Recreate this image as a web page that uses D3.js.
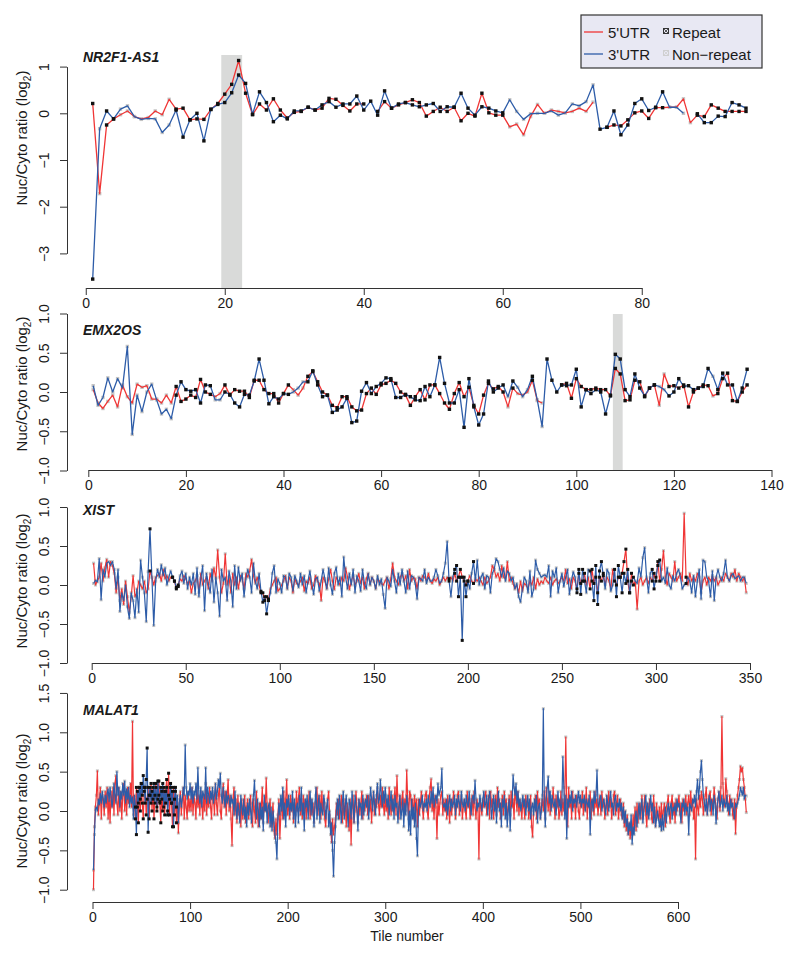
<!DOCTYPE html>
<html><head><meta charset="utf-8">
<script src="https://cdnjs.cloudflare.com/ajax/libs/d3/7.8.5/d3.min.js"></script>
<style>
body{margin:0;background:#fff}
svg{display:block}
text{font-family:"Liberation Sans",Arial,Helvetica,sans-serif;fill:#1a1a1a}
</style>
</head><body>
<svg id="chart" width="800" height="955"></svg>
<script>
// ---------------- DATA ----------------
const seriesNames = ["5'UTR", "3'UTR"];
const markerNames = ["Repeat", "Non\u2212repeat"];
const panelNames = ["NR2F1-AS1", "EMX2OS", "XIST", "MALAT1"];

// NR2F1-AS1 (tile 1..95)
const nr2f1Utr5 = [0.21,-1.72,-0.25,-0.12,-0.03,0.05,-0.07,-0.12,-0.09,0.05,
 -0.03,0.30,0.09,0.11,-0.14,-0.12,-0.13,0.08,0.21,0.41,
 0.62,1.13,0.43,-0.03,0.20,0.07,0.31,0.07,-0.10,0.02,
 0.04,0.13,0.07,0.11,0.32,0.30,0.17,0.05,0.20,0.20,
 null,0.04,0.25,0.11,0.18,0.23,0.29,0.23,-0.06,0.04,
 0.13,0.04,0.13,-0.16,0.00,-0.06,0.43,0.01,-0.04,-0.04,
 -0.29,-0.23,-0.46,-0.07,0.19,0.00,0.07,0.04,0.01,0.04,
 0.11,0.04,0.24,null,-0.30,-0.25,-0.27,-0.14,0.01,0.05,
 -0.11,0.12,0.12,0.13,0.13,0.31,-0.20,-0.04,-0.07,0.18,
 0.11,0.04,0.04,0.04,0.04];
const nr2f1Utr3 = [-3.55,-0.33,0.05,-0.12,0.09,0.16,-0.07,-0.13,-0.11,-0.12,
 -0.41,-0.25,0.07,-0.51,-0.14,0.00,-0.59,0.09,0.19,0.23,
 0.44,0.82,0.64,-0.02,0.46,0.23,-0.18,-0.04,-0.12,0.05,
 0.05,0.13,0.07,0.18,0.25,0.13,0.20,0.20,0.37,0.07,
 0.26,-0.04,0.48,0.11,0.20,0.23,0.18,0.14,0.18,0.21,
 0.04,0.14,0.13,0.43,0.11,-0.04,0.14,0.11,0.05,0.01,
 0.29,0.04,-0.13,-0.01,0.00,0.00,0.05,-0.04,0.01,0.20,
 0.16,0.25,0.61,-0.34,-0.30,0.05,-0.46,-0.25,0.21,0.31,
 0.06,0.13,0.46,0.13,0.13,0.00,null,-0.01,-0.20,-0.20,
 -0.06,-0.07,0.23,0.18,0.11];
const nr2f1Repeat = [[1,1],[3,4],[13,60],[74,83],[88,95]];
const nr2f1Shade = [19.5, 22.5];

// EMX2OS (tile 1..135)
const emx2osUtr5 = [0.03,-0.14,-0.21,-0.12,-0.04,-0.19,0.09,-0.06,-0.14,0.10,
 0.06,0.08,-0.09,-0.09,-0.14,-0.04,-0.14,0.07,-0.12,-0.09,
 -0.04,-0.07,0.16,0.00,-0.03,-0.06,-0.02,0.09,-0.04,0.03,
 0.01,0.01,-0.07,0.15,0.15,0.03,-0.02,-0.02,-0.14,-0.02,
 0.09,0.03,-0.04,0.05,0.20,0.26,0.13,0.00,-0.04,-0.17,
 -0.20,-0.06,-0.06,-0.19,-0.24,-0.23,-0.02,0.05,-0.03,0.09,
 0.11,0.15,0.11,0.00,-0.04,-0.17,-0.06,0.03,-0.10,0.09,
 0.09,-0.02,-0.14,-0.22,-0.02,0.12,-0.06,0.06,-0.17,-0.28,
 -0.04,0.11,0.04,0.07,0.00,-0.19,0.05,-0.02,-0.04,0.00,
 0.15,-0.11,-0.14,null,null,null,0.09,0.11,-0.08,0.17,
 0.07,0.03,0.03,0.05,0.03,0.03,-0.05,0.30,0.23,-0.11,
 -0.10,0.15,0.13,-0.06,0.05,0.09,-0.17,0.23,0.07,0.08,
 0.05,0.09,-0.19,0.00,0.05,0.09,0.08,-0.05,-0.02,0.17,
 0.24,-0.11,-0.12,0.00,0.09];
const emx2osUtr3 = [0.08,-0.17,-0.07,0.18,0.00,0.17,0.05,0.58,-0.54,-0.04,
 -0.25,0.00,0.10,-0.10,-0.28,-0.22,-0.34,-0.04,0.13,0.03,
 0.01,0.03,-0.14,0.09,0.08,-0.10,-0.10,0.00,-0.03,-0.14,
 -0.19,-0.03,-0.04,0.14,0.42,0.15,-0.15,-0.06,-0.09,-0.02,
 -0.03,0.00,0.05,0.13,0.13,0.27,0.09,-0.06,-0.04,-0.26,
 -0.23,-0.19,-0.08,-0.39,-0.37,0.01,0.12,-0.02,0.07,0.11,
 0.18,0.17,-0.07,-0.07,-0.03,-0.06,-0.10,-0.11,0.07,-0.06,
 0.09,0.44,0.11,-0.14,-0.14,0.03,-0.45,0.17,-0.19,-0.42,
 -0.28,0.14,0.00,0.05,0.09,-0.06,0.14,0.06,-0.06,0.03,
 0.20,-0.10,-0.44,0.42,0.15,0.00,0.09,0.08,0.09,0.29,
 -0.19,0.03,-0.02,0.03,0.00,-0.28,-0.04,0.48,0.42,0.03,
 -0.06,0.23,0.05,-0.05,0.05,0.09,0.07,0.03,-0.05,0.00,
 0.17,0.07,0.08,0.03,0.05,0.07,0.30,0.20,0.03,0.24,
 0.09,0.09,-0.12,0.05,0.29];
const emx2osRepeat = [[18,25],[28,41],[45,85],[87,87],[91,91],[94,116],[119,127],[129,135]];
const emx2osShade = [107.5, 109.5];

// XIST (tile 1..348)
const xistUtr5 = [0.28,0.0,0.05,0.1,0.28,0.05,0.22,0.33,0.1,0.3,
 0.25,0.15,-0.1,0.1,-0.2,-0.05,-0.25,0.05,-0.15,-0.35,
 -0.15,0.12,-0.15,-0.1,0.05,0.0,-0.05,0.05,-0.1,-0.05,
 0.18,0.1,0.0,0.1,0.12,0.15,0.05,0.2,0.08,0.12,
 0.05,0.1,0.1,0.05,-0.05,0.0,0.08,0.05,0.12,0.08,
 0.02,0.05,-0.1,0.02,0.05,0.12,-0.1,0.15,0.0,0.05,
 0.1,-0.05,0.15,0.05,0.22,0.08,0.45,0.1,-0.1,0.02,
 0.4,0.0,0.1,-0.1,0.15,0.0,0.1,-0.05,0.12,0.08,
 -0.05,0.15,0.1,0.18,0.33,0.12,0.02,0.1,0.0,-0.1,
 -0.1,-0.2,-0.15,-0.18,-0.05,0.0,0.05,0.1,-0.08,-0.05,
 0.0,0.05,0.12,-0.05,0.1,0.05,-0.1,0.08,0.02,0.0,
 0.05,0.1,-0.08,0.05,0.02,0.1,-0.05,0.0,0.12,0.05,
 0.02,-0.2,0.1,0.05,-0.05,0.08,0.2,0.05,-0.06,0.1,
 0.05,0.0,0.1,0.05,0.22,0.1,-0.06,0.05,0.12,0.0,
 0.05,0.15,0.02,0.1,-0.05,0.08,0.15,0.0,0.1,0.05,
 -0.05,0.08,0.05,0.02,0.0,0.05,0.1,-0.05,0.08,0.28,
 0.1,0.05,0.0,0.1,0.15,0.05,0.12,-0.05,0.2,0.05,
 0.1,0.08,-0.05,0.1,0.05,0.12,0.1,0.05,0.15,0.05,
 0.02,0.08,0.05,0.1,0.0,0.05,0.1,0.05,0.1,0.08,
 0.1,0.05,0.15,0.05,0.1,0.2,0.1,0.05,0.0,0.05,
 0.12,0.05,0.02,0.08,0.05,0.1,0.05,0.0,0.1,0.02,
 0.05,0.1,0.25,0.2,0.1,0.15,0.05,0.25,0.1,0.08,
 0.3,0.05,0.1,0.02,-0.05,0.0,-0.1,0.05,-0.08,0.02,
 0.0,-0.05,0.05,0.0,0.1,-0.05,0.08,0.0,0.05,0.02,
 0.1,0.05,0.02,0.1,0.0,0.05,0.08,0.02,0.05,0.1,
 0.05,0.2,0.02,0.08,-0.05,0.1,0.05,-0.05,0.15,0.02,
 0.05,0.15,0.0,0.1,-0.05,0.2,0.02,0.1,-0.1,0.1,
 0.05,0.15,0.0,0.1,0.05,-0.05,0.2,0.05,0.0,0.1,
 0.1,0.15,0.3,0.46,0.05,-0.1,0.15,0.0,0.05,-0.31,
 0.05,0.1,0.0,0.05,0.1,0.02,0.1,0.05,0.15,0.05,
 0.3,0.05,0.2,0.44,0.1,0.0,0.15,0.1,0.05,0.3,
 0.05,0.1,0.15,0.05,0.92,0.1,0.0,0.15,0.05,0.1,
 0.05,0.15,0.1,-0.1,0.05,0.1,0.0,0.1,0.05,0.12,
 0.05,0.1,0.0,0.05,0.1,0.05,0.15,0.1,0.05,0.15,
 0.1,0.2,0.05,0.15,0.1,0.05,0.1,-0.1];
const xistUtr3 = [0.02,0.06,0.04,0.34,-0.19,0.2,0.1,0.28,0.3,0.25,
 0.3,0.2,-0.05,0.2,-0.34,-0.1,-0.2,0.0,-0.28,-0.43,
 -0.1,-0.2,-0.42,-0.05,-0.35,0.32,0.1,-0.1,-0.47,0.17,
 0.72,0.1,-0.52,0.05,0.2,0.1,0.26,0.12,0.22,0.0,
 0.1,0.18,0.1,0.05,-0.03,-0.02,0.12,0.18,0.02,0.15,
 -0.05,0.1,0.0,0.15,-0.12,0.22,-0.15,0.08,0.25,-0.33,
 0.15,0.02,-0.1,0.2,-0.22,0.1,-0.1,-0.4,0.2,0.05,
 0.1,-0.2,0.18,0.05,-0.28,0.25,-0.05,0.23,0.05,0.15,
 -0.15,0.08,0.2,0.1,-0.1,0.28,0.05,-0.05,0.15,-0.08,
 -0.22,-0.15,-0.37,-0.2,-0.1,0.15,0.25,-0.1,0.08,0.02,
 -0.1,0.12,0.1,-0.05,0.15,0.1,-0.08,0.12,0.05,-0.03,
 0.15,0.0,0.12,-0.1,0.05,0.18,0.02,-0.12,0.08,0.1,
 -0.08,0.05,0.2,0.08,-0.05,0.22,0.0,-0.12,0.15,0.23,
 0.0,0.1,-0.15,0.36,0.1,-0.05,0.15,0.0,0.2,-0.1,
 0.12,0.05,-0.08,0.2,0.02,-0.05,0.15,0.0,0.1,0.05,
 -0.05,0.12,0.0,0.08,-0.12,-0.3,0.1,0.05,-0.02,0.2,
 0.05,-0.1,0.15,0.0,0.2,0.05,-0.1,0.18,-0.05,0.12,
 0.1,0.02,-0.18,0.1,0.08,0.05,0.2,0.02,0.1,0.05,
 0.05,0.1,0.2,0.12,0.02,0.05,0.15,0.28,0.56,0.05,
 -0.15,0.1,0.2,0.25,-0.15,0.1,-0.71,0.1,-0.15,0.05,
 -0.05,0.15,0.3,0.05,0.32,0.0,0.1,0.15,-0.05,0.12,
 0.1,-0.1,0.15,0.2,0.34,0.3,0.2,0.1,0.22,0.05,
 0.18,0.15,0.05,0.1,-0.05,0.02,-0.15,-0.22,-0.05,0.1,
 0.05,-0.1,0.18,-0.15,-0.05,0.32,0.2,0.15,0.1,0.12,
 0.13,0.1,0.25,-0.15,0.18,0.1,0.22,-0.1,0.05,0.15,
 -0.02,0.1,0.2,-0.12,0.05,0.17,0.1,-0.1,0.2,-0.12,
 0.2,0.05,-0.1,0.2,0.18,0.05,-0.2,0.25,-0.25,0.18,
 0.3,0.12,-0.05,0.2,0.15,-0.08,0.0,0.2,-0.15,0.25,
 0.1,-0.1,0.15,0.02,0.2,-0.1,0.05,0.1,0.05,0.02,
 0.22,0.1,0.35,0.48,0.1,-0.1,0.15,0.2,-0.05,0.1,
 0.25,0.32,0.05,0.1,0.02,0.22,0.0,-0.05,0.12,0.05,
 0.15,0.2,0.1,-0.05,0.0,0.02,0.1,0.05,-0.1,0.12,
 -0.15,0.05,0.2,-0.18,0.32,0.3,0.1,0.05,-0.15,0.18,
 -0.2,0.1,0.2,0.1,0.05,0.15,0.32,0.1,0.05,0.12,
 0.15,0.08,0.1,0.12,0.05,0.1,0.1,0.02];
const xistRepeat = [[31,31],[43,46],[90,94],[190,190],[193,200],[203,203],[258,262],[265,272],[278,288],[298,302],[316,316]];
const xistShade = null;

// MALAT1 (tile 1..670)
const malat1Utr5 = [-1.0,-.2,.05,.2,.51,-.05,.1,.3,-.1,.2,.15,-.05,.25,.05,.3,-.1,.2,-.15,.25,.05,
 .3,-.05,.35,.45,.1,-.05,.3,.0,.25,-.1,.2,.35,.0,.25,-.05,.3,.1,.2,.35,.05,
 1.14,-.05,.2,-.1,.3,.05,-.15,.3,.0,.35,.1,-.1,.25,.3,-.05,.15,.3,-.1,.2,.35,
 .0,.3,-.1,.2,.35,.0,.15,.38,.1,-.15,.25,.0,.3,-.05,.25,.4,.0,.48,-.05,.3,
 .1,-.2,.3,-.05,.25,-.15,.15,-.28,.1,.25,-.05,.15,.3,-.1,.2,.05,-.1,.25,.0,.15,
 .0,.3,-.05,.2,.1,-.1,.3,.05,.2,-.05,.25,.1,-.1,.2,.0,.35,-.05,.2,.05,.3,
 .05,-.1,.25,.15,-.05,.35,.1,-.05,.2,.3,.0,-.1,.2,.35,.05,.25,-.05,.2,.4,.0,
 .2,-.1,-.44,.15,.3,-.05,.15,-.15,.2,-.05,.1,-.2,.15,-.1,.05,.2,-.15,.05,.15,-.1,
 .05,.2,-.1,-.2,.15,.0,-.15,.25,-.05,-.2,.1,-.1,.05,.3,-.15,.1,.0,.42,.05,-.15,
 .05,.15,-.2,-.05,.1,-.25,-.35,-.1,-.3,-.05,.15,-.35,-.05,.15,-.1,.25,-.05,.15,.4,-.05,
 .15,-.1,.2,.0,.15,-.15,.1,-.05,.25,.0,.15,.3,-.05,.15,-.1,.2,.0,.15,-.1,.1,
 .0,.25,-.1,.15,-.05,.1,-.15,.05,.2,.3,-.05,.1,.2,-.1,.25,.0,.15,-.1,-.2,.05,
 .15,.25,-.05,-.2,-.4,-.1,-.3,-.2,-.1,.1,-.05,.15,-.1,.05,.2,-.15,.1,-.05,.15,-.2,
 .1,-.05,-.25,.15,-.43,.05,.2,-.15,.0,.25,.05,-.15,.15,-.05,.1,.25,-.1,.15,.0,.1,
 .2,-.05,.2,.0,.15,-.15,.1,.25,-.05,.15,.05,.3,.1,-.05,.2,.05,.3,.1,-.05,.2,
 .0,.15,-.1,.3,.1,-.05,.2,.0,.15,.3,-.05,.45,.1,-.1,.2,.0,.15,.25,-.05,.15,
 .0,.52,.15,-.1,.25,.2,-.05,.15,-.1,.2,.0,.15,-.2,.15,-.05,.1,.25,.05,-.1,.1,
 .2,.25,.0,-.1,.15,.3,.41,.0,.15,-.1,.2,.05,-.35,.15,-.05,.1,.2,.25,-.05,.15,
 .0,.15,-.1,.2,.05,-.15,.15,-.05,.1,.25,.1,-.1,.05,.2,.25,-.05,.1,.2,-.1,.05,
 .15,.0,-.1,.25,.05,.15,-.1,.05,.2,-.05,.25,.05,-.1,.15,.05,-.61,.15,.05,-.05,.15,
 .05,.2,.25,-.05,.05,.2,-.1,.25,.05,.15,-.1,.05,.2,-.05,.3,.05,.15,-.1,.05,.2,
 -.05,.25,.05,.15,-.1,.05,.2,-.05,.25,.05,.15,-.1,.3,.15,.0,.25,-.05,.15,.05,-.1,
 .15,.05,-.1,.2,.05,.15,-.1,.0,.2,-.2,-.33,.0,.1,.2,-.1,.25,.05,.15,-.1,.05,
 .15,.0,.25,-.1,.3,.15,.0,.25,-.05,.15,.05,.3,.1,-.1,.2,.05,.15,-.1,.0,.25,
 -.05,.15,.0,.2,.94,.1,-.2,.3,.05,.15,-.1,.25,.05,.15,-.1,.2,.15,.0,-.1,.15,
 .05,.25,-.05,.15,.0,.3,-.1,.15,.05,.25,-.1,.15,.05,-.05,.25,.05,.15,-.05,.1,.2,
 -.05,.25,.05,.15,-.1,.05,.2,-.05,.25,.05,.15,-.1,.05,.2,.25,-.05,.1,.2,-.1,.05,
 .15,-.05,-.1,.1,-.2,.0,-.25,-.05,-.3,-.15,-.35,-.2,-.3,-.05,-.2,.05,-.25,.1,-.15,.05,
 .1,-.1,.2,-.1,.05,.2,-.05,-.2,.1,-.05,.15,.1,-.1,-.15,.2,.0,-.2,.1,-.05,-.1,
 .05,-.2,.1,-.15,.0,.1,-.2,.05,.1,.2,-.05,-.15,.1,.2,-.05,.1,-.15,.15,.0,.1,
 .2,-.05,.1,-.15,.15,.0,.1,.2,-.05,.1,.2,-.05,.25,.05,.15,-.1,.05,-.61,.15,.05,
 -.05,.2,.05,.25,.15,-.05,.1,.2,.3,-.05,.1,.2,.25,-.05,.15,.05,.3,.15,.05,-.1,
 .15,.25,.0,.3,1.2,.35,.1,.05,.41,.25,.1,-.05,.2,.05,.15,-.05,-.1,.15,-.29,.05,
 .2,.3,.4,.57,.5,.55,.4,.3,.15,-.02];
const malat1Utr3 = [-.75,-.3,.02,.05,.0,.15,.08,.22,.1,.25,.15,.05,.2,.1,.22,.28,.12,.3,.18,.05,
 .15,.35,.2,.1,.5,.2,.3,.05,.25,.15,.35,.2,.38,.1,.28,.15,.3,.05,.2,.1,
 .18,-.1,.2,.05,-.3,.25,.1,.3,.15,.35,.2,.45,.3,.1,.4,.8,-.27,.2,.3,.1,
 .25,.15,.35,.1,.3,.05,.38,.2,.12,.3,.15,.35,.05,.25,.1,.3,-.05,.2,.15,.35,
 .1,.25,-.2,.15,.3,.05,.2,-.15,.1,.2,.05,.15,.3,.2,.84,.3,.15,.25,.2,.35,
 .15,.3,.1,.25,.2,.35,.15,.55,.2,.1,.3,.05,.25,.2,.15,.55,.1,.3,.2,.1,
 .25,.15,.3,.1,.2,.35,.15,.25,.4,.3,.48,.2,.1,.3,.15,.05,.25,.1,.2,.15,
 .05,.2,.1,.15,-.05,.25,.05,-.1,.1,.0,-.15,.2,.05,-.05,.15,-.1,.05,-.2,.1,-.05,
 .15,.0,-.15,.1,.2,.39,.05,-.1,.15,.0,-.2,.1,-.1,.05,-.25,.2,.0,.1,-.15,.05,
 .1,-.2,.05,-.25,.0,-.15,-.3,-.4,-.61,-.1,.1,-.05,.2,.0,.3,-.1,.1,-.2,.15,.05,
 .2,-.05,.1,.0,.25,-.1,.15,-.2,.05,.1,-.15,.2,.0,.3,-.05,.1,-.25,.15,.05,.2,
 -.1,.1,.25,-.05,.15,.0,-.2,.1,.3,-.1,.05,.2,-.15,.1,.0,-.05,.2,.1,-.1,.05,
 .15,-.2,.0,-.3,-.15,-.5,-.83,-.4,-.2,.0,.15,-.1,.2,.05,-.15,.1,.25,-.1,.05,.2,
 .0,-.2,.15,.1,-.1,.25,.05,-.15,.2,.1,.0,-.25,.15,.05,.1,-.1,.2,-.05,.1,.15,
 .05,.2,-.1,.1,.3,.15,.0,.25,.1,-.05,.2,.35,.1,.15,.4,.2,.05,.25,.1,.3,
 .15,.05,.2,-.05,.1,.25,.0,.15,-.1,.2,.05,.1,-.15,.05,.2,-.1,.0,.15,-.2,.1,
 -.05,.2,.1,-.25,.0,-.3,.15,-.1,.05,-.2,.1,-.35,-.57,.0,.15,.05,.1,.2,.0,.1,
 .05,.15,.0,.2,.1,.05,.25,.1,.3,.05,.15,.2,.1,.35,.2,.25,.3,.54,.1,.05,
 .1,.0,.15,-.05,.1,.2,.0,.15,.05,.1,.2,-.05,.15,.05,.2,.1,.0,.25,.1,.05,
 .15,.0,.2,.1,.05,.25,.1,-.05,.15,.2,.1,.39,.15,.0,.1,.05,.2,.1,.0,.15,
 .25,.05,.1,.2,-.05,.15,.25,.1,-.1,.05,.2,.0,.15,-.15,.1,.25,.0,.1,-.2,.15,
 .05,.2,-.1,.1,-.2,.0,.15,-.25,.05,.1,.46,.3,.2,.35,.1,.25,.05,.15,.0,.1,
 .2,.05,.15,-.05,.1,.2,.0,.15,-.1,.05,.1,-.05,.15,.0,.2,-.15,.05,.1,-.1,.0,
 .2,1.3,.1,-.2,.15,.3,.44,.1,.25,.0,.2,.1,.05,.15,-.05,.1,.25,.05,.15,.0,
 .1,.69,.3,-.1,.2,-.35,.15,.05,.2,.1,.25,.0,.15,.1,.2,.05,.15,.25,.1,.2,
 .05,.15,.1,.2,.0,.15,.1,.05,.2,-.3,.1,.15,.0,.25,.1,.2,.52,.1,.05,.15,
 .2,.0,.1,.15,.05,-.05,.2,.1,.0,.15,.25,.05,.1,-.05,.15,.2,.0,.1,.05,.15,
 .0,.1,-.1,.05,-.15,.0,-.2,-.1,-.3,-.15,-.25,-.05,-.42,-.2,-.3,-.1,.0,-.2,-.05,.1,
 -.1,.05,.15,-.15,.0,.1,.2,-.05,.1,-.1,.05,.2,.0,.1,-.15,.05,-.2,-.1,.0,-.1,
 -.2,-.1,-.25,-.05,-.24,-.1,.05,-.15,.0,.1,-.05,.05,.1,-.1,.05,.0,.1,-.05,.15,.05,
 .1,.0,-.15,.1,.05,.15,-.05,.1,.0,.05,-.3,.1,.05,.0,.15,.1,.2,.05,.25,.4,
 .15,.3,.5,.64,.4,.2,.1,.0,.15,-.05,.1,.2,.0,.15,.1,-.05,.2,.1,-.16,.05,
 .15,.25,.05,.1,.2,.0,.15,.1,.05,.2,.0,.1,-.05,.15,.05,.1,.0,-.1,.1,.05,
 .1,.15,.2,.3,.25,.2,.3,.15,.2,.19];
const malat1Repeat = [[44,86]];
const malat1Shade = null;

// tick labels
const nr2f1XTicks = [0,20,40,60,80];
const nr2f1YTicks = [-3,-2,-1,0,1];
const emx2osXTicks = [0,20,40,60,80,100,120,140];
const emx2osYTicks = [-1,-0.5,0,0.5,1];
const xistXTicks = [0,50,100,150,200,250,300,350];
const xistYTicks = [-1,-0.5,0,0.5,1];
const malat1XTicks = [0,100,200,300,400,500,600];
const malat1YTicks = [-1,-0.5,0,0.5,1,1.5];

// ---------------- LAYOUT / STYLE ----------------
const RED = "#f03535", BLUE = "#2d5ca8", SHADE = "#d9dad9";
const panels = [
  {name: panelNames[0], utr5: nr2f1Utr5, utr3: nr2f1Utr3, rep: nr2f1Repeat, shade: nr2f1Shade,
   xTicks: nr2f1XTicks, yTicks: nr2f1YTicks, dec: 0, lw: 1.3, ms: 3.4,
   xr: [85.75, 641.75], yd: [-3, 1], yr: [253.4, 66.6], axisY: 288, shadeTop: 55, titleY: 62, ylabY: 138},
  {name: panelNames[1], utr5: emx2osUtr5, utr3: emx2osUtr3, rep: emx2osRepeat, shade: emx2osShade,
   xTicks: emx2osXTicks, yTicks: emx2osYTicks, dec: 1, lw: 1.3, ms: 3.4,
   xr: [88.3, 771.5], yd: [-1, 1], yr: [470.5, 313.5], axisY: 470, shadeTop: 314, titleY: 335, ylabY: 384},
  {name: panelNames[2], utr5: xistUtr5, utr3: xistUtr3, rep: xistRepeat, shade: xistShade,
   xTicks: xistXTicks, yTicks: xistYTicks, dec: 1, lw: 1.2, ms: 3.0,
   xr: [91.7, 750], yd: [-1, 1], yr: [663, 507], axisY: 663, shadeTop: 507, titleY: 515, ylabY: 581},
  {name: panelNames[3], utr5: malat1Utr5, utr3: malat1Utr3, rep: malat1Repeat, shade: malat1Shade,
   xTicks: malat1XTicks, yTicks: malat1YTicks, dec: 1, lw: 1.2, ms: 3.0,
   xr: [92.5, 678], yd: [-1, 1.5], yr: [889.7, 692.95], axisY: 902, shadeTop: 693, titleY: 715, ylabY: 801}
];
const AXIS_X = 67, AXIS_COL = "#333";

const svg = d3.select("#chart");
const fmtNum = (v, dec) => {
  const s = dec ? d3.format(".1f")(Math.abs(v)) : String(Math.abs(v));
  return (v < 0 ? "\u2212" : "") + s;
};

panels.forEach(p => {
  const xMax = p.xTicks[p.xTicks.length - 1];
  const x = d3.scaleLinear().domain([0, xMax]).range(p.xr);
  const y = d3.scaleLinear().domain(p.yd).range(p.yr);
  const g = svg.append("g");
  const isRep = t => p.rep.some(r => t >= r[0] && t <= r[1]);

  if (p.shade) {
    g.append("rect")
      .attr("x", x(p.shade[0])).attr("width", x(p.shade[1]) - x(p.shade[0]))
      .attr("y", p.shadeTop).attr("height", p.axisY - p.shadeTop)
      .attr("fill", SHADE);
  }

  const series = [{vals: p.utr5, col: RED}, {vals: p.utr3, col: BLUE}];
  series.forEach(s => { s.pts = s.vals.map((v, i) => ({t: i + 1, v})); });
  const drawMarkers = (rep) => series.forEach(s => {
    g.selectAll(null).data(s.pts.filter(d => d.v != null && isRep(d.t) === rep)).join("rect")
      .attr("x", d => x(d.t) - p.ms / 2).attr("y", d => y(d.v) - p.ms / 2)
      .attr("width", p.ms).attr("height", p.ms)
      .attr("fill", rep ? "#111" : "#c4c4c4");
  });
  // non-repeat markers beneath the lines
  drawMarkers(false);
  const line = d3.line().defined(d => d.v != null).x(d => x(d.t)).y(d => y(d.v));
  series.forEach(s => {
    g.append("path").datum(s.pts).attr("d", line)
      .attr("fill", "none").attr("stroke", s.col).attr("stroke-width", p.lw)
      .attr("stroke-linejoin", "round");
  });
  // repeat markers on top
  drawMarkers(true);

  // x axis
  const xa = g.append("g").attr("transform", `translate(0,${p.axisY})`)
    .call(d3.axisBottom(x).tickValues(p.xTicks).tickSize(7).tickSizeOuter(0).tickFormat(d => d));
  xa.select(".domain").attr("stroke", AXIS_COL);
  xa.selectAll(".tick line").attr("stroke", AXIS_COL);
  xa.selectAll(".tick text").attr("font-size", 14).attr("y", 10).attr("dy", "0.71em")
    .attr("font-family", '"Liberation Sans",Arial,sans-serif').attr("fill", "#1a1a1a");

  // y axis
  const ya = g.append("g").attr("transform", `translate(${AXIS_X},0)`)
    .call(d3.axisLeft(y).tickValues(p.yTicks).tickSize(7).tickSizeOuter(0).tickFormat(d => fmtNum(d, p.dec)));
  ya.select(".domain").attr("stroke", AXIS_COL);
  ya.selectAll(".tick line").attr("stroke", AXIS_COL);
  ya.selectAll(".tick text").attr("font-size", 14)
    .attr("font-family", '"Liberation Sans",Arial,sans-serif').attr("fill", "#1a1a1a")
    .attr("x", null).attr("dy", null)
    .attr("text-anchor", "middle")
    .attr("transform", "translate(-17,0) rotate(-90)")
    .attr("y", 0).attr("dy", "-0.05em");

  // title
  g.append("text").attr("x", 83).attr("y", p.titleY)
    .attr("font-size", 14).attr("font-weight", "bold").attr("font-style", "italic")
    .text(p.name);

  // y label
  const yl = g.append("text").attr("transform", `translate(27,${p.ylabY}) rotate(-90)`)
    .attr("text-anchor", "middle").attr("font-size", 15);
  yl.append("tspan").text("Nuc/Cyto ratio (log");
  yl.append("tspan").attr("font-size", 10).attr("dy", 4).text("2");
  yl.append("tspan").attr("dy", -4).text(")");
});

// x label
svg.append("text").attr("x", 407).attr("y", 941).attr("text-anchor", "middle")
  .attr("font-size", 14).text("Tile number");

// legend
const lg = svg.append("g");
lg.append("rect").attr("x", 581).attr("y", 15).attr("width", 181).attr("height", 53)
  .attr("fill", "#e8e8f3").attr("stroke", "#333").attr("stroke-width", 1.2);
[{c: RED, y: 32}, {c: BLUE, y: 54}].forEach((r, i) => {
  lg.append("line").attr("x1", 584).attr("x2", 603).attr("y1", r.y).attr("y2", r.y)
    .attr("stroke", r.c).attr("stroke-width", 1.3);
  lg.append("text").attr("x", 608).attr("y", r.y + 5.5).attr("font-size", 15).text(seriesNames[i]);
  const mc = i === 0 ? "#333" : "#cfcfcf";
  const mx = 666, my = r.y - 1;
  lg.append("rect").attr("x", mx - 2.5).attr("y", my - 2.5).attr("width", 5).attr("height", 5)
    .attr("fill", "none").attr("stroke", mc).attr("stroke-width", 1);
  lg.append("path").attr("d", `M${mx-2.5},${my-2.5}L${mx+2.5},${my+2.5}M${mx+2.5},${my-2.5}L${mx-2.5},${my+2.5}`)
    .attr("stroke", mc).attr("stroke-width", 0.8);
  lg.append("text").attr("x", 672).attr("y", r.y + 5.5).attr("font-size", 15).text(markerNames[i]);
});
</script>
</body></html>
